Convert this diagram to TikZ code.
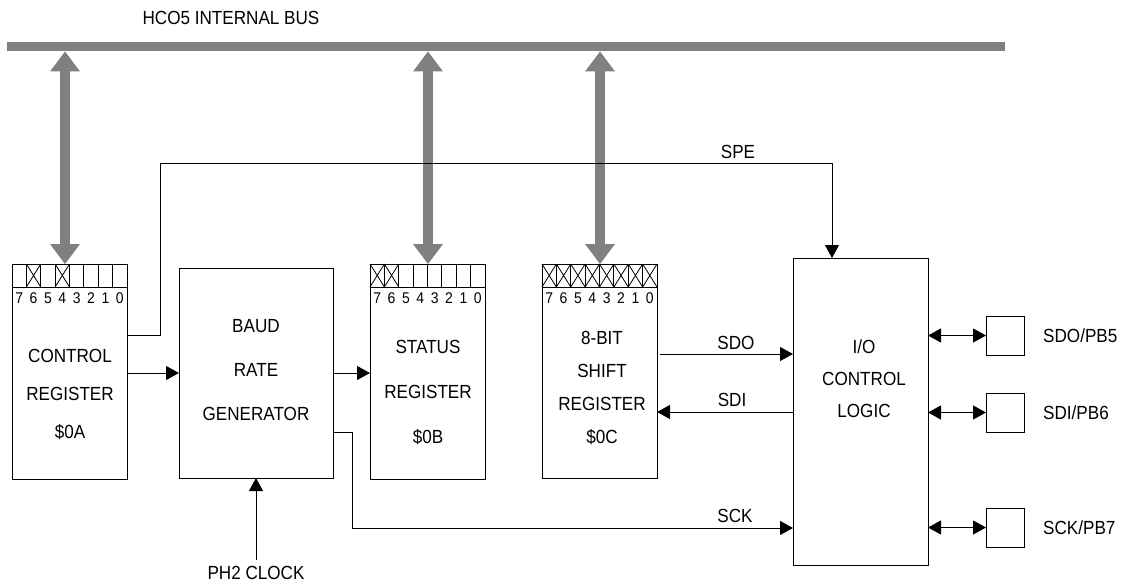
\documentclass[tikz,border=0pt]{standalone}
\usepackage{fontspec}
\setmainfont[FakeStretch=0.9]{Liberation Sans}
\usetikzlibrary{calc, arrows.meta, positioning}

\definecolor{busgray}{RGB}{128,128,128}

\tikzset{
    regbox/.style={draw=black, line width=1pt, rectangle, anchor=north west, inner sep=0pt, outer sep=0pt},
    cellline/.style={draw=black, line width=0.8pt},
    sig/.style={draw=black, line width=1pt},
    lbl/.style={font=\fontsize{19}{23}\selectfont, inner sep=0pt, align=center},
    digit/.style={font=\fontsize{15.5}{17}\selectfont, inner sep=0pt},
    bus/.style={draw=busgray, line width=9pt},
    busarrow/.style={draw=busgray, line width=10pt,
        {Triangle[width=30pt, length=20pt, line width=0pt]}-{Triangle[width=30pt, length=20pt, line width=0pt]}}
}

\begin{document}
\begin{tikzpicture}[x=1pt, y=-1pt, >={Triangle[length=13pt, width=14pt]}]

        \useasboundingbox (0,0) rectangle (1123,583);

        %% Internal bus
        \node (bustxt) [lbl] at (231,18) {HCO5 INTERNAL BUS};
        \coordinate (busw) at (7,47);
        \coordinate (buse) at (1005,47);
        \draw [bus] (busw) -- (buse);

        %% Registers and blocks
        \node (ctrl) [regbox, minimum width=115pt, minimum height=215pt] at (12,264) {};
        \node (baud) [regbox, minimum width=154pt, minimum height=210pt] at (179,268) {};
        \node (stat) [regbox, minimum width=115pt, minimum height=215pt] at (370,264) {};
        \node (shift) [regbox, minimum width=115pt, minimum height=214pt] at (542,264) {};
        \node (io) [regbox, minimum width=135pt, minimum height=307pt] at (793,258) {};

        %% Pins
        \node (sq5) [regbox, minimum width=38pt, minimum height=39pt] at (986,316) {};
        \node (sq6) [regbox, minimum width=38pt, minimum height=39pt] at (986,393) {};
        \node (sq7) [regbox, minimum width=38pt, minimum height=39pt] at (986,508) {};
        \node (pb5) [lbl, anchor=west] at (1043,335.5) {SDO/PB5};
        \node (pb6) [lbl, anchor=west] at (1043,412.5) {SDI/PB6};
        \node (pb7) [lbl, anchor=west] at (1043,527.5) {SCK/PB7};

        %% Bit cells
        \foreach \r in {ctrl, stat, shift}
            \foreach \k in {0,...,7}
                \draw [cellline] ($(\r.north west)+(\k*14.375,0)$) rectangle ++(14.375,23);
        \foreach \r/\xs in {ctrl/{1,3}, stat/{0,1}, shift/{0,1,2,3,4,5,6,7}}
            \foreach \k in \xs
                \draw [cellline] ($(\r.north west)+(\k*14.375,0)$) -- ++(14.375,23) ++(-14.375,0) -- ++(14.375,-23);

        %% Bit numbers
        \foreach \r in {ctrl, stat, shift}
            \foreach \b [count=\k from 0] in {7,6,...,0}
                \node (\r-\b) [digit] at ($(\r.north west)+(\k*14.375+7.2,34)$) {\b};

        %% Block texts
        \node (ctrltxt) [lbl] at (70,395) {CONTROL\\[15pt]REGISTER\\[15pt]\$0A};
        \node (baudtxt) [lbl] at (256,370) {BAUD\\[21pt]RATE\\[21pt]GENERATOR};
        \node (stattxt) [lbl] at (428,393) {STATUS\\[22pt]REGISTER\\[22pt]\$0B};
        \node (shifttxt) [lbl] at (602,388) {8-BIT\\[10pt]SHIFT\\[10pt]REGISTER\\[10pt]\$0C};
        \node (iotxt) [lbl] at (864,379) {I/O\\[9pt]CONTROL\\[9pt]LOGIC};

        %% Bus arrows
        \coordinate (bctrl) at (65,51.5);
        \coordinate (bstat) at (428,51.5);
        \coordinate (bshift) at (600,51.5);
        \draw [busarrow] (bctrl) -- (bctrl |- ctrl.north);
        \draw [busarrow] (bstat) -- (bstat |- stat.north);
        \draw [busarrow] (bshift) -- (bshift |- shift.north);

        %% SPE
        \coordinate (spe1) at (160,163);
        \coordinate (spe2) at (832,163);
        \draw [sig, ->] ($(ctrl.north east)+(0,71)$) -| (spe1) -- (spe2) -- (spe2 |- io.north);
        \node (spe) [lbl] at (738,152) {SPE};

        %% Clock path
        \draw [sig, ->] (ctrl.east |- baud.west) -- (baud.west);
        \draw [sig, ->] (baud.east) -- (baud.east -| stat.west);
        \node (ph2) [lbl] at (256,573) {PH2 CLOCK};
        \draw [sig, ->, shorten <=6pt] (ph2.north) -- (ph2.north |- baud.south);

        %% Serial lines
        \coordinate (sdo) at (660,354);
        \coordinate (sdi) at (793,412);
        \coordinate (sckc) at (352,528);
        \draw [sig, ->] (sdo) -- (sdo -| io.west);
        \draw [sig, ->] (sdi) -- (sdi -| shift.east);
        \draw [sig, ->] ($(baud.south east)+(0,-46)$) -| (sckc) -- (sckc -| io.west);
        \node (sdolbl) [lbl] at (736,343) {SDO};
        \node (sdilbl) [lbl] at (732,400) {SDI};
        \node (scklbl) [lbl] at (735,516) {SCK};

        %% Pin arrows
        \draw [sig, <->] (io.east |- sq5.west) -- (sq5.west);
        \draw [sig, <->] (io.east |- sq6.west) -- (sq6.west);
        \draw [sig, <->] (io.east |- sq7.west) -- (sq7.west);

\end{tikzpicture}
\end{document}
